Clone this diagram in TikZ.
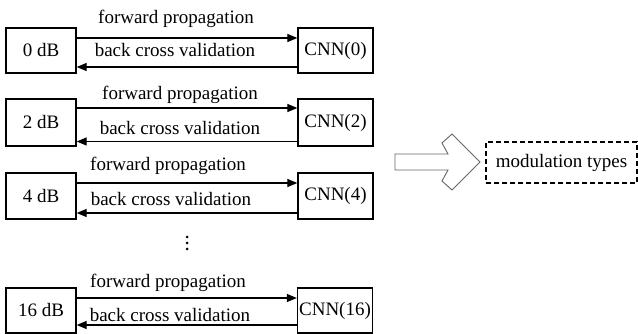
\documentclass[tikz,border=0pt]{standalone}
\usepackage{fontspec}
\setmainfont{Liberation Serif}
\usetikzlibrary{arrows.meta}
\begin{document}
\begin{tikzpicture}[x=1pt,y=-1pt,
  txt/.style={font=\fontsize{19}{22}\selectfont},
  box/.style={txt, draw, line width=1.3pt, minimum width=70pt, inner sep=0pt},
  cnn/.style={box, minimum width=75pt},
  lbl/.style={txt, inner sep=0pt},
  conn/.style={line width=1.2pt, -{Triangle[length=10pt,width=8pt]}},
  hollow/.style={draw=black!60, line width=0.9pt, line join=miter},
  dot/.style={circle, fill=black, inner sep=0pt, minimum size=3pt},
  dbox/.style={txt, draw, line width=1.3pt, dash pattern=on 5pt off 3pt, minimum width=151pt, minimum height=41pt, inner sep=0pt}]
\useasboundingbox (0,0) rectangle (638,334);

% row 0
\node[box, minimum height=45pt] (l0) at (41,50.5) {0 dB};
\node[cnn, minimum height=45pt] (r0) at (335.5,50.5) {CNN(0)};
\draw[conn] (l0.east |- 0,38) -- (r0.west |- 0,38);
\draw[conn] (r0.west |- 0,67) -- (l0.east |- 0,67);
\node[lbl] (f0) at (176,19) {forward propagation};
\node[lbl] (b0) at (175,50) {back cross validation};

% row 1
\node[box, minimum height=47pt] (l1) at (41,122.5) {2 dB};
\node[cnn, minimum height=47pt] (r1) at (335.5,122.5) {CNN(2)};
\draw[conn] (l1.east |- 0,108) -- (r1.west |- 0,108);
\draw[conn] (r1.west |- 0,141.5) -- (l1.east |- 0,141.5);
\node[lbl] (f1) at (180,95) {forward propagation};
\node[lbl] (b1) at (180,128) {back cross validation};

% row 2
\node[box, minimum height=46pt] (l2) at (41,196) {4 dB};
\node[cnn, minimum height=46pt] (r2) at (335.5,196) {CNN(4)};
\draw[conn] (l2.east |- 0,183) -- (r2.west |- 0,183);
\draw[conn] (r2.west |- 0,213) -- (l2.east |- 0,213);
\node[lbl] (f2) at (168,166) {forward propagation};
\node[lbl] (b2) at (171,199) {back cross validation};

% dots
\node[dot] (d1) at (187,237) {};
\node[dot] (d2) at (187,243) {};
\node[dot] (d3) at (187,249) {};

% row 3
\node[box, minimum height=45pt] (l3) at (41,310.5) {16 dB};
\node[cnn, minimum height=45pt] (r3) at (335,310.5) {CNN(16)};
\draw[conn] (l3.east |- 0,298) -- (r3.west |- 0,298);
\draw[conn] (r3.west |- 0,325) -- (l3.east |- 0,325);
\node[lbl] (f3) at (168,283) {forward propagation};
\node[lbl] (b3) at (170,315) {back cross validation};

% hollow arrow
\draw[hollow] (395,154) -- (448,154) -- (442,143) -- (452,134) -- (480,162)
  -- (452,190) -- (442,181) -- (448,170) -- (395,170) -- cycle;

% output box
\node[dbox] (mt) at (561.5,162.5) {modulation types};
\end{tikzpicture}
\end{document}
